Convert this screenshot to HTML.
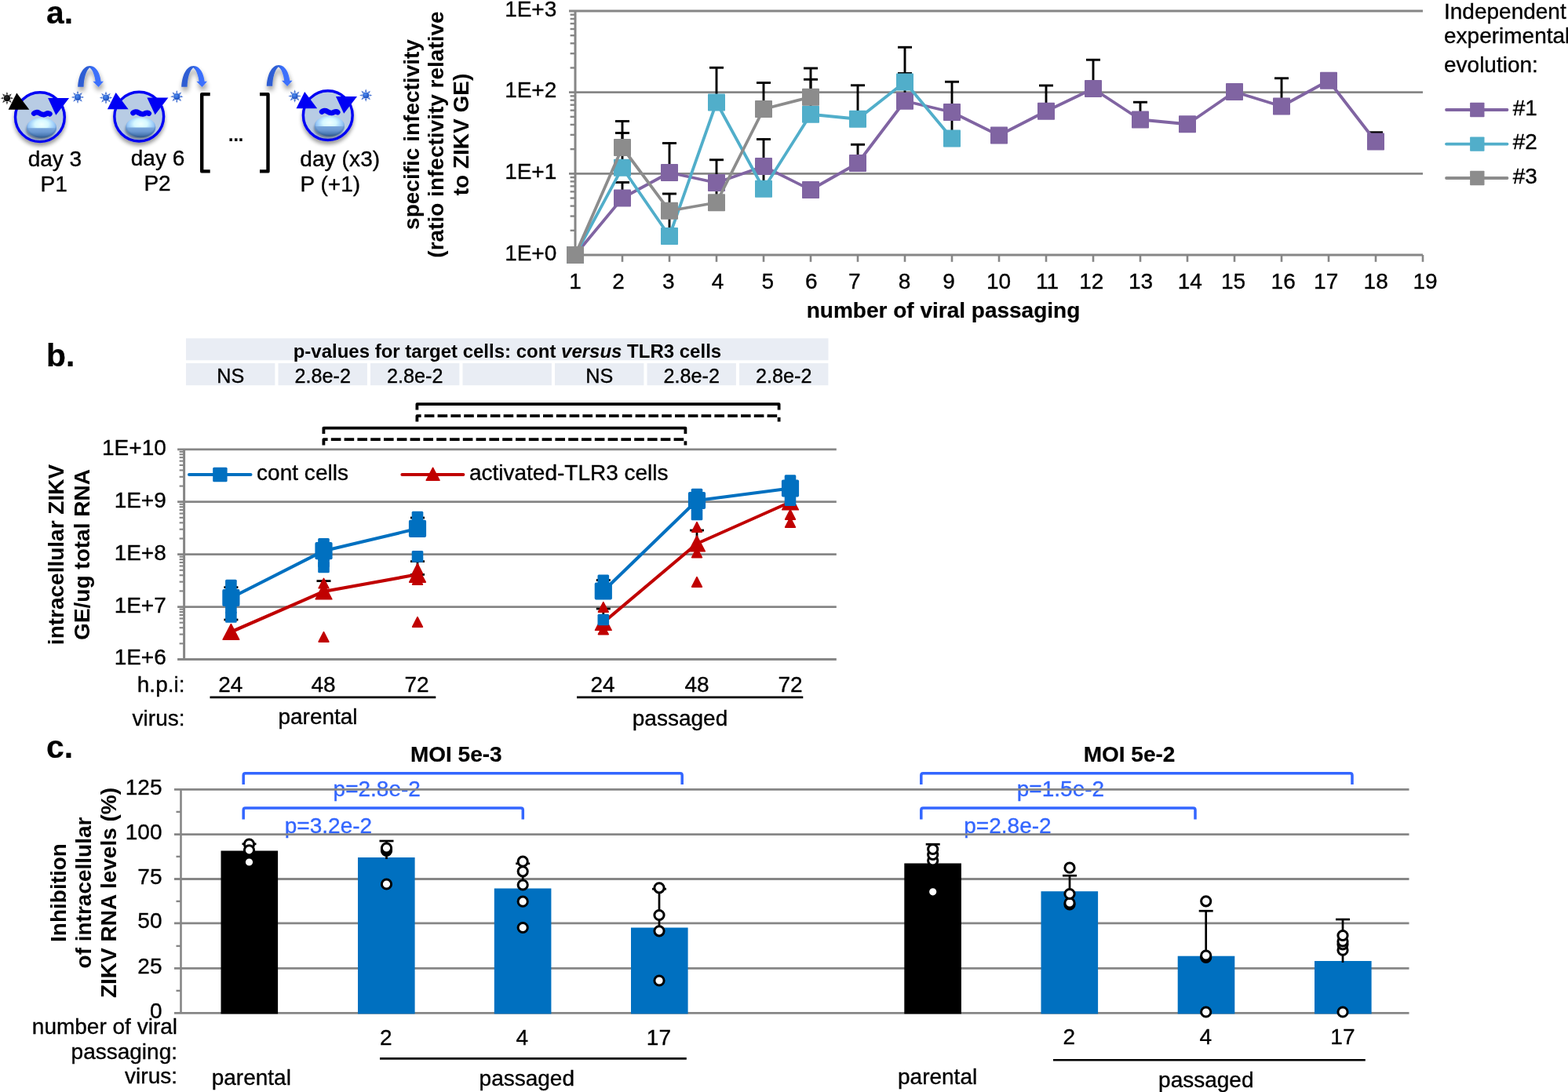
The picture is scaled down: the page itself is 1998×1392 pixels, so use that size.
<!DOCTYPE html>
<html lang="en"><head><meta charset="utf-8"><title>Figure</title>
<style>html,body{margin:0;padding:0;background:#fff;}body{width:1998px;height:1392px;overflow:hidden;}svg{display:block;font-family:'Liberation Sans', sans-serif;}</style>
</head><body>
<svg width="1998" height="1392" viewBox="0 0 1998 1392">
<defs>
<filter id="sh" x="-40%" y="-40%" width="190%" height="200%">
  <feGaussianBlur in="SourceAlpha" stdDeviation="2.6"/>
  <feOffset dx="0" dy="3.6" result="b"/>
  <feComponentTransfer><feFuncA type="linear" slope="0.4"/></feComponentTransfer>
  <feMerge><feMergeNode/><feMergeNode in="SourceGraphic"/></feMerge>
</filter>
<filter id="sha" x="-60%" y="-60%" width="240%" height="260%">
  <feGaussianBlur in="SourceAlpha" stdDeviation="3"/>
  <feOffset dx="1" dy="4.6" result="b"/>
  <feComponentTransfer><feFuncA type="linear" slope="0.42"/></feComponentTransfer>
  <feMerge><feMergeNode/><feMergeNode in="SourceGraphic"/></feMerge>
</filter>
<filter id="blur1" x="-30%" y="-30%" width="160%" height="160%"><feGaussianBlur stdDeviation="1.6"/></filter>
<radialGradient id="nuctop" cx="0.5" cy="0.34" r="0.56" gradientTransform="translate(0 0) scale(1 1)">
  <stop offset="0" stop-color="#eeffff"/>
  <stop offset="0.4" stop-color="#d6f8ff"/>
  <stop offset="0.72" stop-color="#a0cffa"/>
  <stop offset="1" stop-color="#78a8e4"/>
</radialGradient>
<linearGradient id="nucbot" x1="0" y1="0" x2="0" y2="1">
  <stop offset="0" stop-color="#7aa7dc"/>
  <stop offset="0.4" stop-color="#6b99d2"/>
  <stop offset="0.75" stop-color="#4c7ab4"/>
  <stop offset="1" stop-color="#2f5587"/>
</linearGradient>
<radialGradient id="nucedge" cx="0.5" cy="0.42" r="0.58">
  <stop offset="0.78" stop-color="#4a7cbc" stop-opacity="0"/>
  <stop offset="1" stop-color="#34608f" stop-opacity="0.8"/>
</radialGradient>
<radialGradient id="vb" cx="0.4" cy="0.35" r="0.7">
  <stop offset="0" stop-color="#4f8cf0"/>
  <stop offset="1" stop-color="#1546b8"/>
</radialGradient>
<radialGradient id="vk" cx="0.4" cy="0.35" r="0.7">
  <stop offset="0" stop-color="#2a2a2a"/>
  <stop offset="1" stop-color="#000"/>
</radialGradient>
<linearGradient id="arr" x1="0" y1="0" x2="1" y2="0">
  <stop offset="0" stop-color="#2d5bd0"/>
  <stop offset="0.45" stop-color="#2f60d8"/>
  <stop offset="0.6" stop-color="#3a6efa"/>
  <stop offset="1" stop-color="#3d72ff"/>
</linearGradient>
</defs>
<g id="cartoon">
<g filter="url(#sh)"><circle cx="50.9" cy="149.2" r="31.4" fill="#b8cce4" stroke="#0000f4" stroke-width="3.4"/></g>
<ellipse cx="51.6" cy="166.2" rx="18.4" ry="12.2" fill="#34425c" opacity="0.6" filter="url(#blur1)"/>
<ellipse cx="53.0" cy="162.6" rx="19" ry="12.6" fill="url(#nuctop)"/>
<path d="M34.0 163.2 A19 12.6 0 0 0 72.0 163.2 Z" fill="url(#nucbot)"/>
<ellipse cx="53.0" cy="162.6" rx="19" ry="12.6" fill="url(#nucedge)"/>
<path d="M43.2 144.6 c1.6 -1.5 4.4 -2 6.6 -0.6 c2.4 1.5 4 2.6 6.6 2 c2 -0.5 3.4 -2 5.4 -1.6 c0.8 0.1 1.2 0.4 1.6 0.8" fill="none" stroke="#0000f4" stroke-width="6.6" stroke-linecap="round" stroke-linejoin="round"/>
<path d="M61.1 125.0 L88.1 125.0 L71.3 146.8 Z" fill="#0000f4"/>
<path d="M21.3 118.4 L37.3 139.70000000000002 L10.600000000000001 139.70000000000002 Z" fill="#000"/>
<path d="M13.50 126.55 L17.10 125.20 L13.50 123.85 Z" fill="#222" opacity="0.9"/>
<path d="M11.20 129.41 L14.70 131.00 L13.11 127.50 Z" fill="#222" opacity="0.9"/>
<path d="M7.55 129.80 L8.90 133.40 L10.25 129.80 Z" fill="#222" opacity="0.9"/>
<path d="M4.69 127.50 L3.10 131.00 L6.60 129.41 Z" fill="#222" opacity="0.9"/>
<path d="M4.30 123.85 L0.70 125.20 L4.30 126.55 Z" fill="#222" opacity="0.9"/>
<path d="M6.60 120.99 L3.10 119.40 L4.69 122.90 Z" fill="#222" opacity="0.9"/>
<path d="M10.25 120.60 L8.90 117.00 L7.55 120.60 Z" fill="#222" opacity="0.9"/>
<path d="M13.11 122.90 L14.70 119.40 L11.20 120.99 Z" fill="#222" opacity="0.9"/>
<circle cx="8.9" cy="125.2" r="4.1" fill="url(#vk)"/>
<path d="M103.60 125.25 L107.20 123.90 L103.60 122.55 Z" fill="#3a69d0" opacity="0.9"/>
<path d="M101.30 128.11 L104.80 129.70 L103.21 126.20 Z" fill="#3a69d0" opacity="0.9"/>
<path d="M97.65 128.50 L99.00 132.10 L100.35 128.50 Z" fill="#3a69d0" opacity="0.9"/>
<path d="M94.79 126.20 L93.20 129.70 L96.70 128.11 Z" fill="#3a69d0" opacity="0.9"/>
<path d="M94.40 122.55 L90.80 123.90 L94.40 125.25 Z" fill="#3a69d0" opacity="0.9"/>
<path d="M96.70 119.69 L93.20 118.10 L94.79 121.60 Z" fill="#3a69d0" opacity="0.9"/>
<path d="M100.35 119.30 L99.00 115.70 L97.65 119.30 Z" fill="#3a69d0" opacity="0.9"/>
<path d="M103.21 121.60 L104.80 118.10 L101.30 119.69 Z" fill="#3a69d0" opacity="0.9"/>
<circle cx="99" cy="123.9" r="4.1" fill="url(#vb)"/>
<g filter="url(#sha)" transform="translate(99.2,110.8)">
<path d="M0 0 C0.6 -14 6 -26.8 15.5 -26.8 C24 -26.8 28.6 -16 29.4 -7 L32.8 -7 L26.3 0.2 L19.2 -7 L22.4 -7 C21.6 -14 19 -22 15 -24.6 C10.5 -21 7.6 -11 7.4 0 Z" fill="url(#arr)"/>
</g>
<path d="M139.60 125.95 L143.20 124.60 L139.60 123.25 Z" fill="#3a69d0" opacity="0.9"/>
<path d="M137.30 128.81 L140.80 130.40 L139.21 126.90 Z" fill="#3a69d0" opacity="0.9"/>
<path d="M133.65 129.20 L135.00 132.80 L136.35 129.20 Z" fill="#3a69d0" opacity="0.9"/>
<path d="M130.79 126.90 L129.20 130.40 L132.70 128.81 Z" fill="#3a69d0" opacity="0.9"/>
<path d="M130.40 123.25 L126.80 124.60 L130.40 125.95 Z" fill="#3a69d0" opacity="0.9"/>
<path d="M132.70 120.39 L129.20 118.80 L130.79 122.30 Z" fill="#3a69d0" opacity="0.9"/>
<path d="M136.35 120.00 L135.00 116.40 L133.65 120.00 Z" fill="#3a69d0" opacity="0.9"/>
<path d="M139.21 122.30 L140.80 118.80 L137.30 120.39 Z" fill="#3a69d0" opacity="0.9"/>
<circle cx="135" cy="124.6" r="4.1" fill="url(#vb)"/>
<g filter="url(#sh)"><circle cx="177.2" cy="148.6" r="31.4" fill="#b8cce4" stroke="#0000f4" stroke-width="3.4"/></g>
<ellipse cx="177.89999999999998" cy="165.6" rx="18.4" ry="12.2" fill="#34425c" opacity="0.6" filter="url(#blur1)"/>
<ellipse cx="179.29999999999998" cy="162.0" rx="19" ry="12.6" fill="url(#nuctop)"/>
<path d="M160.29999999999998 162.6 A19 12.6 0 0 0 198.29999999999998 162.6 Z" fill="url(#nucbot)"/>
<ellipse cx="179.29999999999998" cy="162.0" rx="19" ry="12.6" fill="url(#nucedge)"/>
<path d="M169.5 144.0 c1.6 -1.5 4.4 -2 6.6 -0.6 c2.4 1.5 4 2.6 6.6 2 c2 -0.5 3.4 -2 5.4 -1.6 c0.8 0.1 1.2 0.4 1.6 0.8" fill="none" stroke="#0000f4" stroke-width="6.6" stroke-linecap="round" stroke-linejoin="round"/>
<path d="M187.4 124.4 L214.4 124.4 L197.6 146.2 Z" fill="#0000f4"/>
<path d="M147.6 118.0 L163.6 139.3 L136.9 139.3 Z" fill="#0000f4"/>
<path d="M229.90 124.55 L233.50 123.20 L229.90 121.85 Z" fill="#3a69d0" opacity="0.9"/>
<path d="M227.60 127.41 L231.10 129.00 L229.51 125.50 Z" fill="#3a69d0" opacity="0.9"/>
<path d="M223.95 127.80 L225.30 131.40 L226.65 127.80 Z" fill="#3a69d0" opacity="0.9"/>
<path d="M221.09 125.50 L219.50 129.00 L223.00 127.41 Z" fill="#3a69d0" opacity="0.9"/>
<path d="M220.70 121.85 L217.10 123.20 L220.70 124.55 Z" fill="#3a69d0" opacity="0.9"/>
<path d="M223.00 118.99 L219.50 117.40 L221.09 120.90 Z" fill="#3a69d0" opacity="0.9"/>
<path d="M226.65 118.60 L225.30 115.00 L223.95 118.60 Z" fill="#3a69d0" opacity="0.9"/>
<path d="M229.51 120.90 L231.10 117.40 L227.60 118.99 Z" fill="#3a69d0" opacity="0.9"/>
<circle cx="225.3" cy="123.2" r="4.1" fill="url(#vb)"/>
<g filter="url(#sha)" transform="translate(231.2,110.8)">
<path d="M0 0 C0.6 -14 6 -26.8 15.5 -26.8 C24 -26.8 28.6 -16 29.4 -7 L32.8 -7 L26.3 0.2 L19.2 -7 L22.4 -7 C21.6 -14 19 -22 15 -24.6 C10.5 -21 7.6 -11 7.4 0 Z" fill="url(#arr)"/>
</g>
<path d="M267.7 120.1 L257.2 120.1 L257.2 218.4 L267.7 218.4" fill="none" stroke="#000" stroke-width="4.4" stroke-linejoin="round"/>
<path d="M331 120.1 L341.5 120.1 L341.5 218.4 L331 218.4" fill="none" stroke="#000" stroke-width="4.4" stroke-linejoin="round"/>
<text x="291.0" y="179.6" font-size="23" text-anchor="start" font-weight="bold" fill="#000" stroke="#000" stroke-width="0.2" >...</text>
<g filter="url(#sha)" transform="translate(339.8,109.8)">
<path d="M0 0 C0.6 -14 6 -26.8 15.5 -26.8 C24 -26.8 28.6 -16 29.4 -7 L32.8 -7 L26.3 0.2 L19.2 -7 L22.4 -7 C21.6 -14 19 -22 15 -24.6 C10.5 -21 7.6 -11 7.4 0 Z" fill="url(#arr)"/>
</g>
<g filter="url(#sh)"><circle cx="417.8" cy="147.1" r="31.4" fill="#b8cce4" stroke="#0000f4" stroke-width="3.4"/></g>
<ellipse cx="418.50000000000006" cy="164.1" rx="18.4" ry="12.2" fill="#34425c" opacity="0.6" filter="url(#blur1)"/>
<ellipse cx="419.90000000000003" cy="160.5" rx="19" ry="12.6" fill="url(#nuctop)"/>
<path d="M400.90000000000003 161.1 A19 12.6 0 0 0 438.90000000000003 161.1 Z" fill="url(#nucbot)"/>
<ellipse cx="419.90000000000003" cy="160.5" rx="19" ry="12.6" fill="url(#nucedge)"/>
<path d="M410.1 142.5 c1.6 -1.5 4.4 -2 6.6 -0.6 c2.4 1.5 4 2.6 6.6 2 c2 -0.5 3.4 -2 5.4 -1.6 c0.8 0.1 1.2 0.4 1.6 0.8" fill="none" stroke="#0000f4" stroke-width="6.6" stroke-linecap="round" stroke-linejoin="round"/>
<path d="M428.0 122.9 L455.0 122.9 L438.2 144.7 Z" fill="#0000f4"/>
<path d="M388.2 117.0 L404.2 138.3 L377.5 138.3 Z" fill="#0000f4"/>
<path d="M380.20 123.85 L383.80 122.50 L380.20 121.15 Z" fill="#3a69d0" opacity="0.9"/>
<path d="M377.90 126.71 L381.40 128.30 L379.81 124.80 Z" fill="#3a69d0" opacity="0.9"/>
<path d="M374.25 127.10 L375.60 130.70 L376.95 127.10 Z" fill="#3a69d0" opacity="0.9"/>
<path d="M371.39 124.80 L369.80 128.30 L373.30 126.71 Z" fill="#3a69d0" opacity="0.9"/>
<path d="M371.00 121.15 L367.40 122.50 L371.00 123.85 Z" fill="#3a69d0" opacity="0.9"/>
<path d="M373.30 118.29 L369.80 116.70 L371.39 120.20 Z" fill="#3a69d0" opacity="0.9"/>
<path d="M376.95 117.90 L375.60 114.30 L374.25 117.90 Z" fill="#3a69d0" opacity="0.9"/>
<path d="M379.81 120.20 L381.40 116.70 L377.90 118.29 Z" fill="#3a69d0" opacity="0.9"/>
<circle cx="375.6" cy="122.5" r="4.1" fill="url(#vb)"/>
<path d="M470.80 122.85 L474.40 121.50 L470.80 120.15 Z" fill="#3a69d0" opacity="0.9"/>
<path d="M468.50 125.71 L472.00 127.30 L470.41 123.80 Z" fill="#3a69d0" opacity="0.9"/>
<path d="M464.85 126.10 L466.20 129.70 L467.55 126.10 Z" fill="#3a69d0" opacity="0.9"/>
<path d="M461.99 123.80 L460.40 127.30 L463.90 125.71 Z" fill="#3a69d0" opacity="0.9"/>
<path d="M461.60 120.15 L458.00 121.50 L461.60 122.85 Z" fill="#3a69d0" opacity="0.9"/>
<path d="M463.90 117.29 L460.40 115.70 L461.99 119.20 Z" fill="#3a69d0" opacity="0.9"/>
<path d="M467.55 116.90 L466.20 113.30 L464.85 116.90 Z" fill="#3a69d0" opacity="0.9"/>
<path d="M470.41 119.20 L472.00 115.70 L468.50 117.29 Z" fill="#3a69d0" opacity="0.9"/>
<circle cx="466.2" cy="121.5" r="4.1" fill="url(#vb)"/>
<text x="69.9" y="212" font-size="28" text-anchor="middle" font-weight="normal" fill="#000" stroke="#000" stroke-width="0.35" >day 3</text>
<text x="68.7" y="244" font-size="28" text-anchor="middle" font-weight="normal" fill="#000" stroke="#000" stroke-width="0.35" >P1</text>
<text x="201" y="211.3" font-size="28" text-anchor="middle" font-weight="normal" fill="#000" stroke="#000" stroke-width="0.35" >day 6</text>
<text x="200.5" y="243.3" font-size="28" text-anchor="middle" font-weight="normal" fill="#000" stroke="#000" stroke-width="0.35" >P2</text>
<text x="382.2" y="212" font-size="28" text-anchor="start" font-weight="normal" fill="#000" stroke="#000" stroke-width="0.35" textLength="102" lengthAdjust="spacing">day (x3)</text>
<text x="382.6" y="244" font-size="28" text-anchor="start" font-weight="normal" fill="#000" stroke="#000" stroke-width="0.35" >P (+1)</text>
</g>
<text x="59.0" y="29.8" font-size="40.8" text-anchor="start" font-weight="bold" fill="#000" stroke="#000" stroke-width="0.2" >a.</text>
<text x="59.0" y="466.8" font-size="40.8" text-anchor="start" font-weight="bold" fill="#000" stroke="#000" stroke-width="0.2" >b.</text>
<text x="59.0" y="965.5" font-size="40.8" text-anchor="start" font-weight="bold" fill="#000" stroke="#000" stroke-width="0.2" >c.</text>
<g id="chartA">
<line x1="725" y1="14" x2="1813" y2="14" stroke="#868686" stroke-width="2.8" />
<line x1="725" y1="117.6" x2="1813" y2="117.6" stroke="#868686" stroke-width="2.8" />
<line x1="725" y1="221.3" x2="1813" y2="221.3" stroke="#868686" stroke-width="2.8" />
<line x1="725" y1="325" x2="1813" y2="325" stroke="#868686" stroke-width="2.8" />
<line x1="733" y1="14" x2="733" y2="325" stroke="#868686" stroke-width="3.0" />
<line x1="726.6" y1="293.79322378283393" x2="733" y2="293.79322378283393" stroke="#868686" stroke-width="2.4" />
<line x1="726.6" y1="275.538429927395" x2="733" y2="275.538429927395" stroke="#868686" stroke-width="2.4" />
<line x1="726.6" y1="262.58644756566787" x2="733" y2="262.58644756566787" stroke="#868686" stroke-width="2.4" />
<line x1="726.6" y1="252.54010955049938" x2="733" y2="252.54010955049938" stroke="#868686" stroke-width="2.4" />
<line x1="726.6" y1="244.33165371022892" x2="733" y2="244.33165371022892" stroke="#868686" stroke-width="2.4" />
<line x1="726.6" y1="237.3915031851887" x2="733" y2="237.3915031851887" stroke="#868686" stroke-width="2.4" />
<line x1="726.6" y1="231.37967134850186" x2="733" y2="231.37967134850186" stroke="#868686" stroke-width="2.4" />
<line x1="726.6" y1="226.07685985478997" x2="733" y2="226.07685985478997" stroke="#868686" stroke-width="2.4" />
<line x1="726.6" y1="190.12655711616728" x2="733" y2="190.12655711616728" stroke="#868686" stroke-width="2.4" />
<line x1="726.6" y1="171.87176326072833" x2="733" y2="171.87176326072833" stroke="#868686" stroke-width="2.4" />
<line x1="726.6" y1="158.9197808990012" x2="733" y2="158.9197808990012" stroke="#868686" stroke-width="2.4" />
<line x1="726.6" y1="148.87344288383272" x2="733" y2="148.87344288383272" stroke="#868686" stroke-width="2.4" />
<line x1="726.6" y1="140.66498704356226" x2="733" y2="140.66498704356226" stroke="#868686" stroke-width="2.4" />
<line x1="726.6" y1="133.724836518522" x2="733" y2="133.724836518522" stroke="#868686" stroke-width="2.4" />
<line x1="726.6" y1="127.71300468183517" x2="733" y2="127.71300468183517" stroke="#868686" stroke-width="2.4" />
<line x1="726.6" y1="122.41019318812332" x2="733" y2="122.41019318812332" stroke="#868686" stroke-width="2.4" />
<line x1="726.6" y1="86.45989044950059" x2="733" y2="86.45989044950059" stroke="#868686" stroke-width="2.4" />
<line x1="726.6" y1="68.20509659406162" x2="733" y2="68.20509659406162" stroke="#868686" stroke-width="2.4" />
<line x1="726.6" y1="55.25311423233455" x2="733" y2="55.25311423233455" stroke="#868686" stroke-width="2.4" />
<line x1="726.6" y1="45.206776217166066" x2="733" y2="45.206776217166066" stroke="#868686" stroke-width="2.4" />
<line x1="726.6" y1="36.99832037689555" x2="733" y2="36.99832037689555" stroke="#868686" stroke-width="2.4" />
<line x1="726.6" y1="30.058169851855325" x2="733" y2="30.058169851855325" stroke="#868686" stroke-width="2.4" />
<line x1="726.6" y1="24.046338015168487" x2="733" y2="24.046338015168487" stroke="#868686" stroke-width="2.4" />
<line x1="726.6" y1="18.74352652145666" x2="733" y2="18.74352652145666" stroke="#868686" stroke-width="2.4" />
<line x1="733" y1="325" x2="733" y2="333.8" stroke="#868686" stroke-width="2.6" />
<line x1="793" y1="325" x2="793" y2="333.8" stroke="#868686" stroke-width="2.6" />
<line x1="853" y1="325" x2="853" y2="333.8" stroke="#868686" stroke-width="2.6" />
<line x1="913" y1="325" x2="913" y2="333.8" stroke="#868686" stroke-width="2.6" />
<line x1="973" y1="325" x2="973" y2="333.8" stroke="#868686" stroke-width="2.6" />
<line x1="1033" y1="325" x2="1033" y2="333.8" stroke="#868686" stroke-width="2.6" />
<line x1="1093" y1="325" x2="1093" y2="333.8" stroke="#868686" stroke-width="2.6" />
<line x1="1153" y1="325" x2="1153" y2="333.8" stroke="#868686" stroke-width="2.6" />
<line x1="1213" y1="325" x2="1213" y2="333.8" stroke="#868686" stroke-width="2.6" />
<line x1="1273" y1="325" x2="1273" y2="333.8" stroke="#868686" stroke-width="2.6" />
<line x1="1333" y1="325" x2="1333" y2="333.8" stroke="#868686" stroke-width="2.6" />
<line x1="1393" y1="325" x2="1393" y2="333.8" stroke="#868686" stroke-width="2.6" />
<line x1="1453" y1="325" x2="1453" y2="333.8" stroke="#868686" stroke-width="2.6" />
<line x1="1513" y1="325" x2="1513" y2="333.8" stroke="#868686" stroke-width="2.6" />
<line x1="1573" y1="325" x2="1573" y2="333.8" stroke="#868686" stroke-width="2.6" />
<line x1="1633" y1="325" x2="1633" y2="333.8" stroke="#868686" stroke-width="2.6" />
<line x1="1693" y1="325" x2="1693" y2="333.8" stroke="#868686" stroke-width="2.6" />
<line x1="1753" y1="325" x2="1753" y2="333.8" stroke="#868686" stroke-width="2.6" />
<line x1="1813" y1="325" x2="1813" y2="333.8" stroke="#868686" stroke-width="2.6" />
<text x="709.3" y="20.7" font-size="28" text-anchor="end" font-weight="normal" fill="#000" stroke="#000" stroke-width="0.35" >1E+3</text>
<text x="709.3" y="124.3" font-size="28" text-anchor="end" font-weight="normal" fill="#000" stroke="#000" stroke-width="0.35" >1E+2</text>
<text x="709.3" y="228.0" font-size="28" text-anchor="end" font-weight="normal" fill="#000" stroke="#000" stroke-width="0.35" >1E+1</text>
<text x="709.3" y="331.7" font-size="28" text-anchor="end" font-weight="normal" fill="#000" stroke="#000" stroke-width="0.35" >1E+0</text>
<text x="733" y="367.5" font-size="28" text-anchor="middle" font-weight="normal" fill="#000" stroke="#000" stroke-width="0.35" >1</text>
<text x="788" y="367.5" font-size="28" text-anchor="middle" font-weight="normal" fill="#000" stroke="#000" stroke-width="0.35" >2</text>
<text x="851.8" y="367.5" font-size="28" text-anchor="middle" font-weight="normal" fill="#000" stroke="#000" stroke-width="0.35" >3</text>
<text x="914.5" y="367.5" font-size="28" text-anchor="middle" font-weight="normal" fill="#000" stroke="#000" stroke-width="0.35" >4</text>
<text x="978.2" y="367.5" font-size="28" text-anchor="middle" font-weight="normal" fill="#000" stroke="#000" stroke-width="0.35" >5</text>
<text x="1033.8" y="367.5" font-size="28" text-anchor="middle" font-weight="normal" fill="#000" stroke="#000" stroke-width="0.35" >6</text>
<text x="1088.8" y="367.5" font-size="28" text-anchor="middle" font-weight="normal" fill="#000" stroke="#000" stroke-width="0.35" >7</text>
<text x="1152.5" y="367.5" font-size="28" text-anchor="middle" font-weight="normal" fill="#000" stroke="#000" stroke-width="0.35" >8</text>
<text x="1209" y="367.5" font-size="28" text-anchor="middle" font-weight="normal" fill="#000" stroke="#000" stroke-width="0.35" >9</text>
<text x="1272.5" y="367.5" font-size="28" text-anchor="middle" font-weight="normal" fill="#000" stroke="#000" stroke-width="0.35" >10</text>
<text x="1334.6" y="367.5" font-size="28" text-anchor="middle" font-weight="normal" fill="#000" stroke="#000" stroke-width="0.35" >11</text>
<text x="1390.8" y="367.5" font-size="28" text-anchor="middle" font-weight="normal" fill="#000" stroke="#000" stroke-width="0.35" >12</text>
<text x="1453.5" y="367.5" font-size="28" text-anchor="middle" font-weight="normal" fill="#000" stroke="#000" stroke-width="0.35" >13</text>
<text x="1516.3" y="367.5" font-size="28" text-anchor="middle" font-weight="normal" fill="#000" stroke="#000" stroke-width="0.35" >14</text>
<text x="1571.5" y="367.5" font-size="28" text-anchor="middle" font-weight="normal" fill="#000" stroke="#000" stroke-width="0.35" >15</text>
<text x="1635.2" y="367.5" font-size="28" text-anchor="middle" font-weight="normal" fill="#000" stroke="#000" stroke-width="0.35" >16</text>
<text x="1689.7" y="367.5" font-size="28" text-anchor="middle" font-weight="normal" fill="#000" stroke="#000" stroke-width="0.35" >17</text>
<text x="1753.2" y="367.5" font-size="28" text-anchor="middle" font-weight="normal" fill="#000" stroke="#000" stroke-width="0.35" >18</text>
<text x="1816" y="367.5" font-size="28" text-anchor="middle" font-weight="normal" fill="#000" stroke="#000" stroke-width="0.35" >19</text>
<text x="1202" y="405" font-size="28" text-anchor="middle" font-weight="bold" fill="#000" stroke="#000" stroke-width="0.2" >number of viral passaging</text>
<text transform="translate(533.5,171.5) rotate(-90)" font-size="28" text-anchor="middle" font-weight="bold">specific infectivity</text>
<text transform="translate(565,171.5) rotate(-90)" font-size="28" text-anchor="middle" font-weight="bold">(ratio infectivity relative</text>
<text transform="translate(596.5,171.5) rotate(-90)" font-size="28" text-anchor="middle" font-weight="bold">to ZIKV GE)</text>
<line x1="793" y1="252.5" x2="793" y2="232.5" stroke="#000" stroke-width="2.9" />
<line x1="784.0" y1="232.5" x2="802.0" y2="232.5" stroke="#000" stroke-width="2.9" />
<line x1="853" y1="220" x2="853" y2="182.5" stroke="#000" stroke-width="2.9" />
<line x1="844.0" y1="182.5" x2="862.0" y2="182.5" stroke="#000" stroke-width="2.9" />
<line x1="913" y1="233" x2="913" y2="203.75" stroke="#000" stroke-width="2.9" />
<line x1="904.0" y1="203.75" x2="922.0" y2="203.75" stroke="#000" stroke-width="2.9" />
<line x1="973" y1="212" x2="973" y2="177.5" stroke="#000" stroke-width="2.9" />
<line x1="964.0" y1="177.5" x2="982.0" y2="177.5" stroke="#000" stroke-width="2.9" />
<line x1="1093" y1="208" x2="1093" y2="184.25" stroke="#000" stroke-width="2.9" />
<line x1="1084.0" y1="184.25" x2="1102.0" y2="184.25" stroke="#000" stroke-width="2.9" />
<line x1="1153" y1="128.75" x2="1153" y2="93.5" stroke="#000" stroke-width="2.9" />
<line x1="1144.0" y1="93.5" x2="1162.0" y2="93.5" stroke="#000" stroke-width="2.9" />
<line x1="1333" y1="141.75" x2="1333" y2="109" stroke="#000" stroke-width="2.9" />
<line x1="1324.0" y1="109" x2="1342.0" y2="109" stroke="#000" stroke-width="2.9" />
<line x1="1393" y1="113" x2="1393" y2="76.25" stroke="#000" stroke-width="2.9" />
<line x1="1384.0" y1="76.25" x2="1402.0" y2="76.25" stroke="#000" stroke-width="2.9" />
<line x1="1453" y1="152.5" x2="1453" y2="130.25" stroke="#000" stroke-width="2.9" />
<line x1="1444.0" y1="130.25" x2="1462.0" y2="130.25" stroke="#000" stroke-width="2.9" />
<line x1="1633" y1="135.5" x2="1633" y2="99.75" stroke="#000" stroke-width="2.9" />
<line x1="1624.0" y1="99.75" x2="1642.0" y2="99.75" stroke="#000" stroke-width="2.9" />
<line x1="1753" y1="180.5" x2="1753" y2="168.75" stroke="#000" stroke-width="2.9" />
<line x1="1744.0" y1="168.75" x2="1762.0" y2="168.75" stroke="#000" stroke-width="2.9" />
<line x1="793" y1="213.75" x2="793" y2="169.5" stroke="#000" stroke-width="2.9" />
<line x1="784.0" y1="169.5" x2="802.0" y2="169.5" stroke="#000" stroke-width="2.9" />
<line x1="853" y1="301" x2="853" y2="275" stroke="#000" stroke-width="2.9" />
<line x1="844.0" y1="275" x2="862.0" y2="275" stroke="#000" stroke-width="2.9" />
<line x1="913" y1="130.5" x2="913" y2="86.25" stroke="#000" stroke-width="2.9" />
<line x1="904.0" y1="86.25" x2="922.0" y2="86.25" stroke="#000" stroke-width="2.9" />
<line x1="973" y1="240.75" x2="973" y2="215" stroke="#000" stroke-width="2.9" />
<line x1="964.0" y1="215" x2="982.0" y2="215" stroke="#000" stroke-width="2.9" />
<line x1="1033" y1="145.75" x2="1033" y2="101.25" stroke="#000" stroke-width="2.9" />
<line x1="1024.0" y1="101.25" x2="1042.0" y2="101.25" stroke="#000" stroke-width="2.9" />
<line x1="1093" y1="151.75" x2="1093" y2="108.75" stroke="#000" stroke-width="2.9" />
<line x1="1084.0" y1="108.75" x2="1102.0" y2="108.75" stroke="#000" stroke-width="2.9" />
<line x1="1153" y1="104.5" x2="1153" y2="60.25" stroke="#000" stroke-width="2.9" />
<line x1="1144.0" y1="60.25" x2="1162.0" y2="60.25" stroke="#000" stroke-width="2.9" />
<line x1="1213" y1="176.5" x2="1213" y2="104.25" stroke="#000" stroke-width="2.9" />
<line x1="1204.0" y1="104.25" x2="1222.0" y2="104.25" stroke="#000" stroke-width="2.9" />
<line x1="793" y1="188" x2="793" y2="154.5" stroke="#000" stroke-width="2.9" />
<line x1="784.0" y1="154.5" x2="802.0" y2="154.5" stroke="#000" stroke-width="2.9" />
<line x1="853" y1="268.75" x2="853" y2="247" stroke="#000" stroke-width="2.9" />
<line x1="844.0" y1="247" x2="862.0" y2="247" stroke="#000" stroke-width="2.9" />
<line x1="913" y1="258.25" x2="913" y2="236" stroke="#000" stroke-width="2.9" />
<line x1="904.0" y1="236" x2="922.0" y2="236" stroke="#000" stroke-width="2.9" />
<line x1="973" y1="139" x2="973" y2="105.5" stroke="#000" stroke-width="2.9" />
<line x1="964.0" y1="105.5" x2="982.0" y2="105.5" stroke="#000" stroke-width="2.9" />
<line x1="1033" y1="123.75" x2="1033" y2="87" stroke="#000" stroke-width="2.9" />
<line x1="1024.0" y1="87" x2="1042.0" y2="87" stroke="#000" stroke-width="2.9" />
<polyline points="733,325 793,252.5 853,220 913,233 973,212 1033,242 1093,208 1153,128.75 1213,143 1273,172.5 1333,141.75 1393,113 1453,152.5 1513,158.25 1573,117 1633,135.5 1693,102.75 1753,180.5" fill="none" stroke="#8064a2" stroke-width="3.8" stroke-linejoin="round"/>
<rect x="722.00" y="314.00" width="22" height="22" rx="0.8" fill="#8064a2"/>
<rect x="782.00" y="241.50" width="22" height="22" rx="0.8" fill="#8064a2"/>
<rect x="842.00" y="209.00" width="22" height="22" rx="0.8" fill="#8064a2"/>
<rect x="902.00" y="222.00" width="22" height="22" rx="0.8" fill="#8064a2"/>
<rect x="962.00" y="201.00" width="22" height="22" rx="0.8" fill="#8064a2"/>
<rect x="1022.00" y="231.00" width="22" height="22" rx="0.8" fill="#8064a2"/>
<rect x="1082.00" y="197.00" width="22" height="22" rx="0.8" fill="#8064a2"/>
<rect x="1142.00" y="117.75" width="22" height="22" rx="0.8" fill="#8064a2"/>
<rect x="1202.00" y="132.00" width="22" height="22" rx="0.8" fill="#8064a2"/>
<rect x="1262.00" y="161.50" width="22" height="22" rx="0.8" fill="#8064a2"/>
<rect x="1322.00" y="130.75" width="22" height="22" rx="0.8" fill="#8064a2"/>
<rect x="1382.00" y="102.00" width="22" height="22" rx="0.8" fill="#8064a2"/>
<rect x="1442.00" y="141.50" width="22" height="22" rx="0.8" fill="#8064a2"/>
<rect x="1502.00" y="147.25" width="22" height="22" rx="0.8" fill="#8064a2"/>
<rect x="1562.00" y="106.00" width="22" height="22" rx="0.8" fill="#8064a2"/>
<rect x="1622.00" y="124.50" width="22" height="22" rx="0.8" fill="#8064a2"/>
<rect x="1682.00" y="91.75" width="22" height="22" rx="0.8" fill="#8064a2"/>
<rect x="1742.00" y="169.50" width="22" height="22" rx="0.8" fill="#8064a2"/>
<polyline points="733,325 793,213.75 853,301 913,130.5 973,240.75 1033,145.75 1093,151.75 1153,104.5 1213,176.5" fill="none" stroke="#51aeca" stroke-width="3.8" stroke-linejoin="round"/>
<rect x="722.00" y="314.00" width="22" height="22" rx="0.8" fill="#51aeca"/>
<rect x="782.00" y="202.75" width="22" height="22" rx="0.8" fill="#51aeca"/>
<rect x="842.00" y="290.00" width="22" height="22" rx="0.8" fill="#51aeca"/>
<rect x="902.00" y="119.50" width="22" height="22" rx="0.8" fill="#51aeca"/>
<rect x="962.00" y="229.75" width="22" height="22" rx="0.8" fill="#51aeca"/>
<rect x="1022.00" y="134.75" width="22" height="22" rx="0.8" fill="#51aeca"/>
<rect x="1082.00" y="140.75" width="22" height="22" rx="0.8" fill="#51aeca"/>
<rect x="1142.00" y="93.50" width="22" height="22" rx="0.8" fill="#51aeca"/>
<rect x="1202.00" y="165.50" width="22" height="22" rx="0.8" fill="#51aeca"/>
<polyline points="733,325 793,188 853,268.75 913,258.25 973,139 1033,123.75" fill="none" stroke="#8c8c8c" stroke-width="3.8" stroke-linejoin="round"/>
<rect x="722.00" y="314.00" width="22" height="22" rx="0.8" fill="#8c8c8c"/>
<rect x="782.00" y="177.00" width="22" height="22" rx="0.8" fill="#8c8c8c"/>
<rect x="842.00" y="257.75" width="22" height="22" rx="0.8" fill="#8c8c8c"/>
<rect x="902.00" y="247.25" width="22" height="22" rx="0.8" fill="#8c8c8c"/>
<rect x="962.00" y="128.00" width="22" height="22" rx="0.8" fill="#8c8c8c"/>
<rect x="1022.00" y="112.75" width="22" height="22" rx="0.8" fill="#8c8c8c"/>
<text x="1840" y="24" font-size="28" text-anchor="start" font-weight="normal" fill="#000" stroke="#000" stroke-width="0.35" >Independent</text>
<text x="1840" y="55" font-size="28" text-anchor="start" font-weight="normal" fill="#000" stroke="#000" stroke-width="0.35" >experimental</text>
<text x="1840" y="92" font-size="28" text-anchor="start" font-weight="normal" fill="#000" stroke="#000" stroke-width="0.35" >evolution:</text>
<line x1="1843" y1="140" x2="1920.5" y2="140" stroke="#8064a2" stroke-width="3.8" stroke-linecap="round"/>
<rect x="1873.10" y="130.80" width="18.4" height="18.4" rx="0.8" fill="#8064a2"/>
<text x="1927.8" y="146.5" font-size="28" text-anchor="start" font-weight="normal" fill="#000" stroke="#000" stroke-width="0.35" >#1</text>
<line x1="1843" y1="183.6" x2="1920.5" y2="183.6" stroke="#51aeca" stroke-width="3.8" stroke-linecap="round"/>
<rect x="1873.10" y="174.40" width="18.4" height="18.4" rx="0.8" fill="#51aeca"/>
<text x="1927.8" y="190.1" font-size="28" text-anchor="start" font-weight="normal" fill="#000" stroke="#000" stroke-width="0.35" >#2</text>
<line x1="1843" y1="227" x2="1920.5" y2="227" stroke="#8c8c8c" stroke-width="3.8" stroke-linecap="round"/>
<rect x="1873.10" y="217.80" width="18.4" height="18.4" rx="0.8" fill="#8c8c8c"/>
<text x="1927.8" y="233.5" font-size="28" text-anchor="start" font-weight="normal" fill="#000" stroke="#000" stroke-width="0.35" >#3</text>
</g>
<g id="panelB">
<rect x="237" y="431.3" width="818.5" height="28" fill="#e9edf4"/>
<rect x="237.0" y="463" width="113.4" height="28.2" fill="#e9edf4"/>
<text x="293.8" y="488" font-size="25.2" text-anchor="middle" font-weight="normal" fill="#000" stroke="#000" stroke-width="0.35" >NS</text>
<rect x="354.5" y="463" width="113.4" height="28.2" fill="#e9edf4"/>
<text x="411.3" y="488" font-size="25.2" text-anchor="middle" font-weight="normal" fill="#000" stroke="#000" stroke-width="0.35" >2.8e-2</text>
<rect x="472.0" y="463" width="113.4" height="28.2" fill="#e9edf4"/>
<text x="528.8" y="488" font-size="25.2" text-anchor="middle" font-weight="normal" fill="#000" stroke="#000" stroke-width="0.35" >2.8e-2</text>
<rect x="589.5" y="463" width="113.4" height="28.2" fill="#e9edf4"/>
<rect x="707.0" y="463" width="113.4" height="28.2" fill="#e9edf4"/>
<text x="763.8" y="488" font-size="25.2" text-anchor="middle" font-weight="normal" fill="#000" stroke="#000" stroke-width="0.35" >NS</text>
<rect x="824.5" y="463" width="113.4" height="28.2" fill="#e9edf4"/>
<text x="881.3" y="488" font-size="25.2" text-anchor="middle" font-weight="normal" fill="#000" stroke="#000" stroke-width="0.35" >2.8e-2</text>
<rect x="942.0" y="463" width="113.4" height="28.2" fill="#e9edf4"/>
<text x="998.8" y="488" font-size="25.2" text-anchor="middle" font-weight="normal" fill="#000" stroke="#000" stroke-width="0.35" >2.8e-2</text>
<text x="646.4" y="456" font-size="24" text-anchor="middle" font-weight="bold">p-values for target cells: cont <tspan font-style="italic">versus</tspan> TLR3 cells</text>
<path d="M531.4 522.6 L531.4 515.2 L992.6 515.2 L992.6 522.6" fill="none" stroke="#000" stroke-width="3.8" stroke-linejoin="round" />
<path d="M531.4 537.6 L531.4 530.2 L992.6 530.2 L992.6 537.6" fill="none" stroke="#000" stroke-width="3.8" stroke-linejoin="round" stroke-dasharray="12.6 4.2"/>
<path d="M412.4 553.0 L412.4 545.6 L873.4 545.6 L873.4 553.0" fill="none" stroke="#000" stroke-width="3.8" stroke-linejoin="round" />
<path d="M412.4 567.6 L412.4 560.2 L873.4 560.2 L873.4 567.6" fill="none" stroke="#000" stroke-width="3.8" stroke-linejoin="round" stroke-dasharray="12.6 4.2"/>
<line x1="226.1" y1="572.8" x2="1065.8" y2="572.8" stroke="#868686" stroke-width="2.8" />
<line x1="226.1" y1="639.7" x2="1065.8" y2="639.7" stroke="#868686" stroke-width="2.8" />
<line x1="226.1" y1="706.7" x2="1065.8" y2="706.7" stroke="#868686" stroke-width="2.8" />
<line x1="226.1" y1="773.6" x2="1065.8" y2="773.6" stroke="#868686" stroke-width="2.8" />
<line x1="226.1" y1="840.5" x2="1065.8" y2="840.5" stroke="#868686" stroke-width="2.8" />
<line x1="234.6" y1="572.8" x2="234.6" y2="840.5" stroke="#868686" stroke-width="3.0" />
<line x1="228.6" y1="820.353567540188" x2="234.6" y2="820.353567540188" stroke="#868686" stroke-width="2.1" />
<line x1="228.6" y1="808.5686600278866" x2="234.6" y2="808.5686600278866" stroke="#868686" stroke-width="2.1" />
<line x1="228.6" y1="800.2071350803761" x2="234.6" y2="800.2071350803761" stroke="#868686" stroke-width="2.1" />
<line x1="228.6" y1="793.7214324598119" x2="234.6" y2="793.7214324598119" stroke="#868686" stroke-width="2.1" />
<line x1="228.6" y1="788.4222275680746" x2="234.6" y2="788.4222275680746" stroke="#868686" stroke-width="2.1" />
<line x1="228.6" y1="783.9418136720459" x2="234.6" y2="783.9418136720459" stroke="#868686" stroke-width="2.1" />
<line x1="228.6" y1="780.0607026205641" x2="234.6" y2="780.0607026205641" stroke="#868686" stroke-width="2.1" />
<line x1="228.6" y1="776.6373200557732" x2="234.6" y2="776.6373200557732" stroke="#868686" stroke-width="2.1" />
<line x1="228.6" y1="753.428567540188" x2="234.6" y2="753.428567540188" stroke="#868686" stroke-width="2.1" />
<line x1="228.6" y1="741.6436600278865" x2="234.6" y2="741.6436600278865" stroke="#868686" stroke-width="2.1" />
<line x1="228.6" y1="733.2821350803761" x2="234.6" y2="733.2821350803761" stroke="#868686" stroke-width="2.1" />
<line x1="228.6" y1="726.796432459812" x2="234.6" y2="726.796432459812" stroke="#868686" stroke-width="2.1" />
<line x1="228.6" y1="721.4972275680747" x2="234.6" y2="721.4972275680747" stroke="#868686" stroke-width="2.1" />
<line x1="228.6" y1="717.0168136720458" x2="234.6" y2="717.0168136720458" stroke="#868686" stroke-width="2.1" />
<line x1="228.6" y1="713.1357026205642" x2="234.6" y2="713.1357026205642" stroke="#868686" stroke-width="2.1" />
<line x1="228.6" y1="709.7123200557731" x2="234.6" y2="709.7123200557731" stroke="#868686" stroke-width="2.1" />
<line x1="228.6" y1="686.503567540188" x2="234.6" y2="686.503567540188" stroke="#868686" stroke-width="2.1" />
<line x1="228.6" y1="674.7186600278866" x2="234.6" y2="674.7186600278866" stroke="#868686" stroke-width="2.1" />
<line x1="228.6" y1="666.3571350803761" x2="234.6" y2="666.3571350803761" stroke="#868686" stroke-width="2.1" />
<line x1="228.6" y1="659.8714324598119" x2="234.6" y2="659.8714324598119" stroke="#868686" stroke-width="2.1" />
<line x1="228.6" y1="654.5722275680746" x2="234.6" y2="654.5722275680746" stroke="#868686" stroke-width="2.1" />
<line x1="228.6" y1="650.0918136720459" x2="234.6" y2="650.0918136720459" stroke="#868686" stroke-width="2.1" />
<line x1="228.6" y1="646.2107026205641" x2="234.6" y2="646.2107026205641" stroke="#868686" stroke-width="2.1" />
<line x1="228.6" y1="642.7873200557732" x2="234.6" y2="642.7873200557732" stroke="#868686" stroke-width="2.1" />
<line x1="228.6" y1="619.578567540188" x2="234.6" y2="619.578567540188" stroke="#868686" stroke-width="2.1" />
<line x1="228.6" y1="607.7936600278865" x2="234.6" y2="607.7936600278865" stroke="#868686" stroke-width="2.1" />
<line x1="228.6" y1="599.432135080376" x2="234.6" y2="599.432135080376" stroke="#868686" stroke-width="2.1" />
<line x1="228.6" y1="592.946432459812" x2="234.6" y2="592.946432459812" stroke="#868686" stroke-width="2.1" />
<line x1="228.6" y1="587.6472275680746" x2="234.6" y2="587.6472275680746" stroke="#868686" stroke-width="2.1" />
<line x1="228.6" y1="583.1668136720458" x2="234.6" y2="583.1668136720458" stroke="#868686" stroke-width="2.1" />
<line x1="228.6" y1="579.285702620564" x2="234.6" y2="579.285702620564" stroke="#868686" stroke-width="2.1" />
<line x1="228.6" y1="575.8623200557731" x2="234.6" y2="575.8623200557731" stroke="#868686" stroke-width="2.1" />
<text x="211.8" y="579.6999999999999" font-size="28" text-anchor="end" font-weight="normal" fill="#000" stroke="#000" stroke-width="0.35" >1E+10</text>
<text x="211.8" y="646.6" font-size="28" text-anchor="end" font-weight="normal" fill="#000" stroke="#000" stroke-width="0.35" >1E+9</text>
<text x="211.8" y="713.6" font-size="28" text-anchor="end" font-weight="normal" fill="#000" stroke="#000" stroke-width="0.35" >1E+8</text>
<text x="211.8" y="780.5" font-size="28" text-anchor="end" font-weight="normal" fill="#000" stroke="#000" stroke-width="0.35" >1E+7</text>
<text x="211.8" y="847.4" font-size="28" text-anchor="end" font-weight="normal" fill="#000" stroke="#000" stroke-width="0.35" >1E+6</text>
<text transform="translate(81.3,707) rotate(-90)" font-size="28" text-anchor="middle" font-weight="bold">intracellular ZIKV</text>
<text transform="translate(113.7,707) rotate(-90)" font-size="28" text-anchor="middle" font-weight="bold">GE/ug total RNA</text>
<line x1="294.4" y1="748.6" x2="294.4" y2="790" stroke="#000" stroke-width="2.8" />
<line x1="285.4" y1="748.6" x2="303.4" y2="748.6" stroke="#000" stroke-width="2.8" />
<line x1="285.4" y1="790" x2="303.4" y2="790" stroke="#000" stroke-width="2.8" />
<line x1="412.5" y1="740.6" x2="412.5" y2="754" stroke="#000" stroke-width="2.8" />
<line x1="403.5" y1="740.6" x2="421.5" y2="740.6" stroke="#000" stroke-width="2.8" />
<line x1="532" y1="715.6" x2="532" y2="732.4" stroke="#000" stroke-width="2.8" />
<line x1="523.0" y1="715.6" x2="541.0" y2="715.6" stroke="#000" stroke-width="2.8" />
<line x1="523.0" y1="732.4" x2="541.0" y2="732.4" stroke="#000" stroke-width="2.8" />
<line x1="532" y1="660" x2="532" y2="674" stroke="#000" stroke-width="2.8" />
<line x1="523.0" y1="660" x2="541.0" y2="660" stroke="#000" stroke-width="2.8" />
<line x1="768.8" y1="739.5" x2="768.8" y2="753" stroke="#000" stroke-width="2.8" />
<line x1="759.8" y1="739.5" x2="777.8" y2="739.5" stroke="#000" stroke-width="2.8" />
<line x1="768.8" y1="776" x2="768.8" y2="793" stroke="#000" stroke-width="2.8" />
<line x1="759.8" y1="776" x2="777.8" y2="776" stroke="#000" stroke-width="2.8" />
<line x1="888" y1="676" x2="888" y2="693" stroke="#000" stroke-width="2.8" />
<line x1="879.0" y1="676" x2="897.0" y2="676" stroke="#000" stroke-width="2.8" />
<path d="M412.50 737.40 L418.90 749.80 L406.10 749.80 Z" fill="#c00000" stroke="#c00000" stroke-width="1.6" stroke-linejoin="round"/>
<path d="M412.50 805.70 L418.90 818.10 L406.10 818.10 Z" fill="#c00000" stroke="#c00000" stroke-width="1.6" stroke-linejoin="round"/>
<path d="M532.00 718.70 L538.40 731.10 L525.60 731.10 Z" fill="#c00000" stroke="#c00000" stroke-width="1.6" stroke-linejoin="round"/>
<path d="M532.00 732.70 L538.40 745.10 L525.60 745.10 Z" fill="#c00000" stroke="#c00000" stroke-width="1.6" stroke-linejoin="round"/>
<path d="M532.00 786.70 L538.40 799.10 L525.60 799.10 Z" fill="#c00000" stroke="#c00000" stroke-width="1.6" stroke-linejoin="round"/>
<path d="M768.80 767.70 L775.20 780.10 L762.40 780.10 Z" fill="#c00000" stroke="#c00000" stroke-width="1.6" stroke-linejoin="round"/>
<path d="M768.80 796.20 L775.20 808.60 L762.40 808.60 Z" fill="#c00000" stroke="#c00000" stroke-width="1.6" stroke-linejoin="round"/>
<path d="M888.00 665.70 L894.40 678.10 L881.60 678.10 Z" fill="#c00000" stroke="#c00000" stroke-width="1.6" stroke-linejoin="round"/>
<path d="M888.00 698.20 L894.40 710.60 L881.60 710.60 Z" fill="#c00000" stroke="#c00000" stroke-width="1.6" stroke-linejoin="round"/>
<path d="M888.00 735.70 L894.40 748.10 L881.60 748.10 Z" fill="#c00000" stroke="#c00000" stroke-width="1.6" stroke-linejoin="round"/>
<path d="M1007.00 649.70 L1013.40 662.10 L1000.60 662.10 Z" fill="#c00000" stroke="#c00000" stroke-width="1.6" stroke-linejoin="round"/>
<path d="M1007.00 659.70 L1013.40 672.10 L1000.60 672.10 Z" fill="#c00000" stroke="#c00000" stroke-width="1.6" stroke-linejoin="round"/>
<polyline points="294.4,805.5 412.5,754 532,732.3" fill="none" stroke="#c00000" stroke-width="4.1" stroke-linejoin="round"/>
<polyline points="768.8,793.5 888,693 1007,640" fill="none" stroke="#c00000" stroke-width="4.1" stroke-linejoin="round"/>
<path d="M294.40 795.70 L304.70 815.30 L284.10 815.30 Z" fill="#c00000" stroke="#c00000" stroke-width="1.6" stroke-linejoin="round"/>
<path d="M412.50 744.20 L422.80 763.80 L402.20 763.80 Z" fill="#c00000" stroke="#c00000" stroke-width="1.6" stroke-linejoin="round"/>
<path d="M532.00 722.50 L542.30 742.10 L521.70 742.10 Z" fill="#c00000" stroke="#c00000" stroke-width="1.6" stroke-linejoin="round"/>
<path d="M768.80 783.70 L779.10 803.30 L758.50 803.30 Z" fill="#c00000" stroke="#c00000" stroke-width="1.6" stroke-linejoin="round"/>
<path d="M888.00 683.20 L898.30 702.80 L877.70 702.80 Z" fill="#c00000" stroke="#c00000" stroke-width="1.6" stroke-linejoin="round"/>
<path d="M1007.00 630.20 L1017.30 649.80 L996.70 649.80 Z" fill="#c00000" stroke="#c00000" stroke-width="1.6" stroke-linejoin="round"/>
<rect x="287.10" y="738.70" width="14.6" height="14.6" rx="1.5" fill="#0070c0"/>
<rect x="287.10" y="752.70" width="14.6" height="14.6" rx="1.5" fill="#0070c0"/>
<rect x="287.10" y="767.70" width="14.6" height="14.6" rx="1.5" fill="#0070c0"/>
<rect x="287.10" y="779.20" width="14.6" height="14.6" rx="1.5" fill="#0070c0"/>
<rect x="405.20" y="686.00" width="14.6" height="14.6" rx="1.5" fill="#0070c0"/>
<rect x="405.20" y="700.70" width="14.6" height="14.6" rx="1.5" fill="#0070c0"/>
<rect x="405.20" y="708.70" width="14.6" height="14.6" rx="1.5" fill="#0070c0"/>
<rect x="405.20" y="715.70" width="14.6" height="14.6" rx="1.5" fill="#0070c0"/>
<rect x="524.70" y="651.70" width="14.6" height="14.6" rx="1.5" fill="#0070c0"/>
<rect x="524.70" y="662.70" width="14.6" height="14.6" rx="1.5" fill="#0070c0"/>
<rect x="524.70" y="702.10" width="14.6" height="14.6" rx="1.5" fill="#0070c0"/>
<rect x="761.50" y="732.40" width="14.6" height="14.6" rx="1.5" fill="#0070c0"/>
<rect x="761.50" y="782.70" width="14.6" height="14.6" rx="1.5" fill="#0070c0"/>
<rect x="880.70" y="622.70" width="14.6" height="14.6" rx="1.5" fill="#0070c0"/>
<rect x="880.70" y="635.70" width="14.6" height="14.6" rx="1.5" fill="#0070c0"/>
<rect x="880.70" y="648.70" width="14.6" height="14.6" rx="1.5" fill="#0070c0"/>
<rect x="999.70" y="605.30" width="14.6" height="14.6" rx="1.5" fill="#0070c0"/>
<rect x="999.70" y="617.70" width="14.6" height="14.6" rx="1.5" fill="#0070c0"/>
<rect x="999.70" y="630.40" width="14.6" height="14.6" rx="1.5" fill="#0070c0"/>
<polyline points="294.4,762 412.5,702.2 532,673.8" fill="none" stroke="#0070c0" stroke-width="4.1" stroke-linejoin="round"/>
<polyline points="768.8,753.5 888,638 1007,622.5" fill="none" stroke="#0070c0" stroke-width="4.1" stroke-linejoin="round"/>
<rect x="283.30" y="750.90" width="22.2" height="22.2" rx="2" fill="#0070c0"/>
<rect x="401.40" y="691.10" width="22.2" height="22.2" rx="2" fill="#0070c0"/>
<rect x="520.90" y="662.70" width="22.2" height="22.2" rx="2" fill="#0070c0"/>
<rect x="757.70" y="742.40" width="22.2" height="22.2" rx="2" fill="#0070c0"/>
<rect x="876.90" y="626.90" width="22.2" height="22.2" rx="2" fill="#0070c0"/>
<rect x="995.90" y="611.40" width="22.2" height="22.2" rx="2" fill="#0070c0"/>
<line x1="241" y1="605" x2="319.5" y2="605" stroke="#0070c0" stroke-width="4" stroke-linecap="round"/>
<rect x="271.20" y="595.80" width="18.4" height="18.4" rx="1.5" fill="#0070c0"/>
<text x="327" y="612" font-size="28" text-anchor="start" font-weight="normal" fill="#000" stroke="#000" stroke-width="0.35" textLength="117" lengthAdjust="spacing">cont cells</text>
<line x1="512.4" y1="605" x2="590.4" y2="605" stroke="#c00000" stroke-width="4" stroke-linecap="round"/>
<path d="M551.60 596.30 L560.00 612.30 L543.20 612.30 Z" fill="#c00000" stroke="#c00000" stroke-width="1.6" stroke-linejoin="round"/>
<text x="598" y="612" font-size="28" text-anchor="start" font-weight="normal" fill="#000" stroke="#000" stroke-width="0.35" textLength="253.5" lengthAdjust="spacing">activated-TLR3 cells</text>
<text x="235.5" y="881.5" font-size="28" text-anchor="end" font-weight="normal" fill="#000" stroke="#000" stroke-width="0.35" >h.p.i:</text>
<text x="235.5" y="924.5" font-size="28" text-anchor="end" font-weight="normal" fill="#000" stroke="#000" stroke-width="0.35" >virus:</text>
<text x="293.8" y="881.8" font-size="28" text-anchor="middle" font-weight="normal" fill="#000" stroke="#000" stroke-width="0.35" >24</text>
<text x="412" y="881.8" font-size="28" text-anchor="middle" font-weight="normal" fill="#000" stroke="#000" stroke-width="0.35" >48</text>
<text x="531" y="881.8" font-size="28" text-anchor="middle" font-weight="normal" fill="#000" stroke="#000" stroke-width="0.35" >72</text>
<text x="768" y="881.8" font-size="28" text-anchor="middle" font-weight="normal" fill="#000" stroke="#000" stroke-width="0.35" >24</text>
<text x="888" y="881.8" font-size="28" text-anchor="middle" font-weight="normal" fill="#000" stroke="#000" stroke-width="0.35" >48</text>
<text x="1007" y="881.8" font-size="28" text-anchor="middle" font-weight="normal" fill="#000" stroke="#000" stroke-width="0.35" >72</text>
<line x1="267.5" y1="888.9" x2="555.3" y2="888.9" stroke="#000" stroke-width="2.6" />
<line x1="735" y1="888.9" x2="1023.3" y2="888.9" stroke="#000" stroke-width="2.6" />
<text x="405" y="923" font-size="28" text-anchor="middle" font-weight="normal" fill="#000" stroke="#000" stroke-width="0.35" >parental</text>
<text x="866.5" y="925" font-size="28" text-anchor="middle" font-weight="normal" fill="#000" stroke="#000" stroke-width="0.35" >passaged</text>
</g>
<g id="panelC">
<text x="424.6" y="1014.8" font-size="28" text-anchor="start" font-weight="normal" fill="#3366ff" stroke="#3366ff" stroke-width="0.35" >p=2.8e-2</text>
<text x="362.8" y="1062.4" font-size="28" text-anchor="start" font-weight="normal" fill="#3366ff" stroke="#3366ff" stroke-width="0.35" >p=3.2e-2</text>
<text x="1295.8" y="1014.8" font-size="28" text-anchor="start" font-weight="normal" fill="#3366ff" stroke="#3366ff" stroke-width="0.35" >p=1.5e-2</text>
<text x="1228.3" y="1062.4" font-size="28" text-anchor="start" font-weight="normal" fill="#3366ff" stroke="#3366ff" stroke-width="0.35" >p=2.8e-2</text>
<line x1="222.0" y1="1006.4" x2="1795.5" y2="1006.4" stroke="#868686" stroke-width="2.8" />
<text x="206.5" y="1012.6999999999999" font-size="28" text-anchor="end" font-weight="normal" fill="#000" stroke="#000" stroke-width="0.35" >125</text>
<line x1="222.0" y1="1063.7" x2="1795.5" y2="1063.7" stroke="#868686" stroke-width="2.8" />
<text x="206.5" y="1070.0" font-size="28" text-anchor="end" font-weight="normal" fill="#000" stroke="#000" stroke-width="0.35" >100</text>
<line x1="222.0" y1="1120.5" x2="1795.5" y2="1120.5" stroke="#868686" stroke-width="2.8" />
<text x="206.5" y="1126.8" font-size="28" text-anchor="end" font-weight="normal" fill="#000" stroke="#000" stroke-width="0.35" >75</text>
<line x1="222.0" y1="1176.8" x2="1795.5" y2="1176.8" stroke="#868686" stroke-width="2.8" />
<text x="206.5" y="1183.1" font-size="28" text-anchor="end" font-weight="normal" fill="#000" stroke="#000" stroke-width="0.35" >50</text>
<line x1="222.0" y1="1234.4" x2="1795.5" y2="1234.4" stroke="#868686" stroke-width="2.8" />
<text x="206.5" y="1240.7" font-size="28" text-anchor="end" font-weight="normal" fill="#000" stroke="#000" stroke-width="0.35" >25</text>
<line x1="222.0" y1="1291.4" x2="1795.5" y2="1291.4" stroke="#868686" stroke-width="2.8" />
<text x="206.5" y="1297.7" font-size="28" text-anchor="end" font-weight="normal" fill="#000" stroke="#000" stroke-width="0.35" >0</text>
<line x1="230.5" y1="1006.4" x2="230.5" y2="1291.4" stroke="#868686" stroke-width="2.6" />
<line x1="224.5" y1="1262.9" x2="230.5" y2="1262.9" stroke="#868686" stroke-width="2.4" />
<line x1="224.5" y1="1205.9" x2="230.5" y2="1205.9" stroke="#868686" stroke-width="2.4" />
<line x1="224.5" y1="1148.9" x2="230.5" y2="1148.9" stroke="#868686" stroke-width="2.4" />
<line x1="224.5" y1="1091.9" x2="230.5" y2="1091.9" stroke="#868686" stroke-width="2.4" />
<line x1="224.5" y1="1034.9" x2="230.5" y2="1034.9" stroke="#868686" stroke-width="2.4" />
<text transform="translate(84.4,1138) rotate(-90)" font-size="28" text-anchor="middle" font-weight="bold">Inhibition</text>
<text transform="translate(116.4,1138) rotate(-90)" font-size="28" text-anchor="middle" font-weight="bold">of intracellular</text>
<text transform="translate(148.2,1138) rotate(-90)" font-size="28" text-anchor="middle" font-weight="bold">ZIKV RNA levels (%)</text>
<rect x="281.5" y="1084.5" width="72.6" height="207.9" fill="#000"/>
<rect x="456.0" y="1093" width="72.6" height="199.4" fill="#0070c0"/>
<rect x="629.8" y="1132.5" width="72.6" height="159.9" fill="#0070c0"/>
<rect x="804.0" y="1182.5" width="72.6" height="109.9" fill="#0070c0"/>
<rect x="1152.3" y="1100.5" width="72.6" height="191.9" fill="#000"/>
<rect x="1326.5" y="1136.2" width="72.6" height="156.2" fill="#0070c0"/>
<rect x="1500.7" y="1218.7" width="72.6" height="73.7" fill="#0070c0"/>
<rect x="1675.0" y="1225" width="72.6" height="67.4" fill="#0070c0"/>
<path d="M310.2 1000.1 L310.2 988.2 Q310.2 985.7 312.7 985.7 L866.7 985.7 Q869.2 985.7 869.2 988.2 L869.2 1000.1" fill="none" stroke="#3366ff" stroke-width="3.5"/>
<path d="M310.2 1044.4 L310.2 1032.5 Q310.2 1030 312.7 1030 L663.8 1030 Q666.3 1030 666.3 1032.5 L666.3 1044.4" fill="none" stroke="#3366ff" stroke-width="3.5"/>
<path d="M1173.8 1000.1 L1173.8 988.2 Q1173.8 985.7 1176.3 985.7 L1720.5 985.7 Q1723 985.7 1723 988.2 L1723 1000.1" fill="none" stroke="#3366ff" stroke-width="3.5"/>
<path d="M1173.8 1044.4 L1173.8 1032.5 Q1173.8 1030 1176.3 1030 L1520.5 1030 Q1523 1030 1523 1032.5 L1523 1044.4" fill="none" stroke="#3366ff" stroke-width="3.5"/>
<text x="581.3" y="971" font-size="28" text-anchor="middle" font-weight="bold" fill="#000" stroke="#000" stroke-width="0.2" >MOI 5e-3</text>
<text x="1439" y="971" font-size="28" text-anchor="middle" font-weight="bold" fill="#000" stroke="#000" stroke-width="0.2" >MOI 5e-2</text>
<line x1="317.5" y1="1086.5" x2="317.5" y2="1075.8" stroke="#000" stroke-width="2.7" />
<line x1="308.5" y1="1075.8" x2="326.5" y2="1075.8" stroke="#000" stroke-width="2.7" />
<circle cx="317.5" cy="1099" r="6.1" fill="#fff" stroke="#000" stroke-width="3"/>
<circle cx="317.5" cy="1076" r="6.1" fill="#fff" stroke="#000" stroke-width="3"/>
<circle cx="317.5" cy="1083.8" r="6.1" fill="#fff" stroke="#000" stroke-width="3"/>
<line x1="492.5" y1="1095" x2="492.5" y2="1072" stroke="#000" stroke-width="2.7" />
<line x1="483.5" y1="1072" x2="501.5" y2="1072" stroke="#000" stroke-width="2.7" />
<circle cx="492.5" cy="1127" r="6.1" fill="#fff" stroke="#000" stroke-width="3"/>
<circle cx="492.5" cy="1084.5" r="6.1" fill="#fff" stroke="#000" stroke-width="3"/>
<circle cx="492.5" cy="1082.5" r="6.1" fill="#fff" stroke="#000" stroke-width="3"/>
<circle cx="492.5" cy="1081" r="6.1" fill="#fff" stroke="#000" stroke-width="3"/>
<line x1="666.2" y1="1134.5" x2="666.2" y2="1100.8" stroke="#000" stroke-width="2.7" />
<line x1="657.2" y1="1100.8" x2="675.2" y2="1100.8" stroke="#000" stroke-width="2.7" />
<circle cx="666.2" cy="1182.5" r="6.1" fill="#fff" stroke="#000" stroke-width="3"/>
<circle cx="666.2" cy="1149.2" r="6.1" fill="#fff" stroke="#000" stroke-width="3"/>
<circle cx="666.2" cy="1128" r="6.1" fill="#fff" stroke="#000" stroke-width="3"/>
<circle cx="666.2" cy="1110.8" r="6.1" fill="#fff" stroke="#000" stroke-width="3"/>
<circle cx="666.2" cy="1098.2" r="6.1" fill="#fff" stroke="#000" stroke-width="3"/>
<line x1="840" y1="1184.5" x2="840" y2="1133.2" stroke="#000" stroke-width="2.7" />
<line x1="831" y1="1133.2" x2="849" y2="1133.2" stroke="#000" stroke-width="2.7" />
<circle cx="840" cy="1250" r="6.1" fill="#fff" stroke="#000" stroke-width="3"/>
<circle cx="840" cy="1186.8" r="6.1" fill="#fff" stroke="#000" stroke-width="3"/>
<circle cx="840" cy="1166.5" r="6.1" fill="#fff" stroke="#000" stroke-width="3"/>
<circle cx="840" cy="1131.8" r="6.1" fill="#fff" stroke="#000" stroke-width="3"/>
<line x1="1188.7" y1="1102.5" x2="1188.7" y2="1076.2" stroke="#000" stroke-width="2.7" />
<line x1="1179.7" y1="1076.2" x2="1197.7" y2="1076.2" stroke="#000" stroke-width="2.7" />
<circle cx="1188.7" cy="1136.8" r="6.1" fill="#fff" stroke="#000" stroke-width="3"/>
<circle cx="1188.7" cy="1097" r="6.1" fill="#fff" stroke="#000" stroke-width="3"/>
<circle cx="1188.7" cy="1089.5" r="6.1" fill="#fff" stroke="#000" stroke-width="3"/>
<circle cx="1188.7" cy="1082.5" r="6.1" fill="#fff" stroke="#000" stroke-width="3"/>
<line x1="1363" y1="1138.2" x2="1363" y2="1116.2" stroke="#000" stroke-width="2.7" />
<line x1="1354" y1="1116.2" x2="1372" y2="1116.2" stroke="#000" stroke-width="2.7" />
<circle cx="1363" cy="1153" r="6.1" fill="#fff" stroke="#000" stroke-width="3"/>
<circle cx="1363" cy="1151" r="6.1" fill="#fff" stroke="#000" stroke-width="3"/>
<circle cx="1363" cy="1139.5" r="6.1" fill="#fff" stroke="#000" stroke-width="3"/>
<circle cx="1363" cy="1106.2" r="6.1" fill="#fff" stroke="#000" stroke-width="3"/>
<line x1="1536.7" y1="1220.7" x2="1536.7" y2="1161.2" stroke="#000" stroke-width="2.7" />
<line x1="1527.7" y1="1161.2" x2="1545.7" y2="1161.2" stroke="#000" stroke-width="2.7" />
<circle cx="1536.7" cy="1290" r="6.1" fill="#fff" stroke="#000" stroke-width="3"/>
<circle cx="1536.7" cy="1220.5" r="6.1" fill="#fff" stroke="#000" stroke-width="3"/>
<circle cx="1536.7" cy="1218" r="6.1" fill="#fff" stroke="#000" stroke-width="3"/>
<circle cx="1536.7" cy="1148.8" r="6.1" fill="#fff" stroke="#000" stroke-width="3"/>
<line x1="1711" y1="1227" x2="1711" y2="1172" stroke="#000" stroke-width="2.7" />
<line x1="1702" y1="1172" x2="1720" y2="1172" stroke="#000" stroke-width="2.7" />
<circle cx="1711" cy="1290" r="6.1" fill="#fff" stroke="#000" stroke-width="3"/>
<circle cx="1711" cy="1211.2" r="6.1" fill="#fff" stroke="#000" stroke-width="3"/>
<circle cx="1711" cy="1203.8" r="6.1" fill="#fff" stroke="#000" stroke-width="3"/>
<circle cx="1711" cy="1200" r="6.1" fill="#fff" stroke="#000" stroke-width="3"/>
<circle cx="1711" cy="1192.5" r="6.1" fill="#fff" stroke="#000" stroke-width="3"/>
<text x="226" y="1317.6" font-size="28" text-anchor="end" font-weight="normal" fill="#000" stroke="#000" stroke-width="0.35" >number of viral</text>
<text x="226" y="1349.5" font-size="28" text-anchor="end" font-weight="normal" fill="#000" stroke="#000" stroke-width="0.35" >passaging:</text>
<text x="226" y="1380.8" font-size="28" text-anchor="end" font-weight="normal" fill="#000" stroke="#000" stroke-width="0.35" >virus:</text>
<text x="491.9" y="1331.8" font-size="28" text-anchor="middle" font-weight="normal" fill="#000" stroke="#000" stroke-width="0.35" >2</text>
<text x="665.4" y="1331.8" font-size="28" text-anchor="middle" font-weight="normal" fill="#000" stroke="#000" stroke-width="0.35" >4</text>
<text x="839.4" y="1331.8" font-size="28" text-anchor="middle" font-weight="normal" fill="#000" stroke="#000" stroke-width="0.35" >17</text>
<text x="1362.4" y="1331.2" font-size="28" text-anchor="middle" font-weight="normal" fill="#000" stroke="#000" stroke-width="0.35" >2</text>
<text x="1536.4" y="1331.2" font-size="28" text-anchor="middle" font-weight="normal" fill="#000" stroke="#000" stroke-width="0.35" >4</text>
<text x="1710.9" y="1331.2" font-size="28" text-anchor="middle" font-weight="normal" fill="#000" stroke="#000" stroke-width="0.35" >17</text>
<line x1="484" y1="1349.4" x2="874.8" y2="1349.4" stroke="#000" stroke-width="2.6" />
<line x1="1342" y1="1351.2" x2="1739.8" y2="1351.2" stroke="#000" stroke-width="2.6" />
<text x="320.3" y="1382.8" font-size="28" text-anchor="middle" font-weight="normal" fill="#000" stroke="#000" stroke-width="0.35" >parental</text>
<text x="671.3" y="1383.6" font-size="28" text-anchor="middle" font-weight="normal" fill="#000" stroke="#000" stroke-width="0.35" >passaged</text>
<text x="1194.6" y="1381.8" font-size="28" text-anchor="middle" font-weight="normal" fill="#000" stroke="#000" stroke-width="0.35" >parental</text>
<text x="1536.8" y="1385.5" font-size="28" text-anchor="middle" font-weight="normal" fill="#000" stroke="#000" stroke-width="0.35" >passaged</text>
</g>
</svg></body></html>
